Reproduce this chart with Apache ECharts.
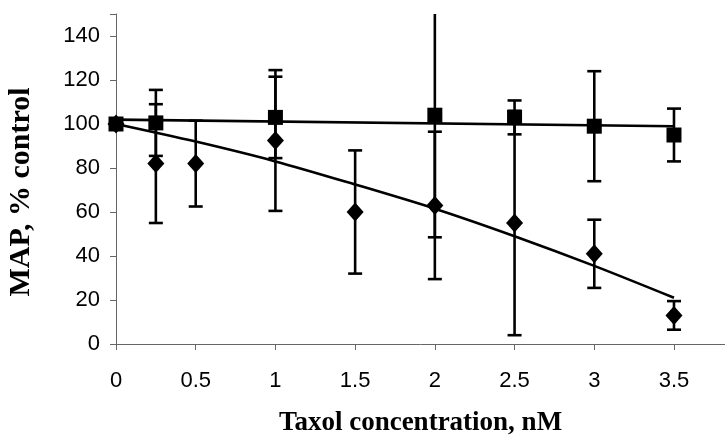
<!DOCTYPE html>
<html>
<head>
<meta charset="utf-8">
<script src="https://cdn.jsdelivr.net/npm/echarts@6/dist/echarts.min.js"></script>
<style>
  html, body { margin: 0; padding: 0; background: #fff; }
  #chart { width: 725px; height: 436px; }
</style>
</head>
<body>
<div id="chart"></div>
<script>
"use strict";

// MAP vs taxol, squares = control curve, diamonds = taxol curve
var xTicks = [0, 0.5, 1, 1.5, 2, 2.5, 3, 3.5];
var yTicks = [0, 20, 40, 60, 80, 100, 120, 140];

var squareX = [0, 0.25, 1, 2, 2.5, 3, 3.5];
var squareY = [100, 100.5, 103, 104, 103, 99, 95];
var squareErr = [0, 15, 18.5, 55.5, 7.7, 25, 12];

var diamondX = [0, 0.25, 0.5, 1, 1.5, 2, 2.5, 3, 3.5];
var diamondY = [100, 82, 82, 92.5, 60, 63, 55, 41, 13];
var diamondErr = [0, 27, 19.5, 32, 28, 33.5, 51, 15.5, 6.5];

// trend lines
var squareTrendX = [0, 3.5];
var squareTrendY = [102, 99];
var diamondTrendX = [0, 0.5, 1, 1.5, 2, 2.5, 3, 3.5];
var diamondTrendY = [100, 92, 83, 72.5, 61.5, 49, 35.5, 21];

function pairs(xs, ys) {
    return xs.map(function (x, i) { return [x, ys[i]]; });
}

function errData(xs, ys, errs) {
    return xs.map(function (x, i) { return [x, ys[i] - errs[i], ys[i] + errs[i]]; });
}

function renderErr(params, api) {
    var lo = api.coord([api.value(0), api.value(1)]);
    var hi = api.coord([api.value(0), api.value(2)]);
    var w = 7;
    var st = { stroke: '#000', lineWidth: 2.6 };
    return {
        type: 'group',
        children: [
            { type: 'line', shape: { x1: lo[0], y1: lo[1], x2: hi[0], y2: hi[1] }, style: st },
            { type: 'line', shape: { x1: lo[0] - w, y1: lo[1], x2: lo[0] + w, y2: lo[1] }, style: st },
            { type: 'line', shape: { x1: hi[0] - w, y1: hi[1], x2: hi[0] + w, y2: hi[1] }, style: st }
        ]
    };
}

var chart = echarts.init(document.getElementById('chart'));

var axisCol = '#666';
var labelFont = { color: '#000', fontFamily: 'Liberation Sans', fontSize: 22 };
var titleFont = { color: '#000', fontFamily: 'Liberation Serif', fontWeight: 'bold' };

var option = {
    animation: false,
    backgroundColor: '#fff',
    grid: { left: 116, right: 0, top: 14, bottom: 92, containLabel: false, outerBoundsMode: 'none' },
    xAxis: {
        type: 'value',
        min: 0,
        max: 3.82,
        interval: 0.5,
        name: 'Taxol concentration, nM',
        nameLocation: 'middle',
        nameGap: 66,
        nameTextStyle: Object.assign({ fontSize: 27 }, titleFont),
        splitLine: { show: false },
        axisLine: { lineStyle: { color: axisCol, width: 1 } },
        axisTick: { show: true, length: 6, lineStyle: { color: axisCol, width: 1 } },
        axisLabel: Object.assign({ margin: 26, customValues: xTicks }, labelFont)
    },
    yAxis: {
        type: 'value',
        min: 0,
        max: 150,
        interval: 20,
        name: 'MAP, % control',
        nameLocation: 'middle',
        nameGap: 80,
        nameTextStyle: Object.assign({ fontSize: 30, padding: [0, 26, 0, 0] }, titleFont),
        splitLine: { show: false },
        axisLine: { show: true, lineStyle: { color: axisCol, width: 1 } },
        axisTick: { show: true, length: 6, lineStyle: { color: axisCol, width: 1 } },
        axisLabel: Object.assign({ margin: 16, customValues: yTicks }, labelFont)
    },
    series: [
        {
            type: 'line',
            data: pairs(squareTrendX, squareTrendY),
            showSymbol: false,
            lineStyle: { color: '#000', width: 2.6 },
            z: 2
        },
        {
            type: 'line',
            data: pairs(diamondTrendX, diamondTrendY),
            showSymbol: false,
            smooth: 0.3,
            lineStyle: { color: '#000', width: 2.6 },
            z: 2
        },
        {
            type: 'custom',
            renderItem: renderErr,
            data: errData(squareX, squareY, squareErr),
            clip: true,
            z: 3
        },
        {
            type: 'custom',
            renderItem: renderErr,
            data: errData(diamondX, diamondY, diamondErr),
            clip: true,
            z: 3
        },
        {
            type: 'scatter',
            data: pairs(squareX, squareY),
            symbol: 'rect',
            symbolSize: 15,
            itemStyle: { color: '#000', opacity: 1 },
            z: 4
        },
        {
            type: 'scatter',
            data: pairs(diamondX, diamondY),
            symbol: 'diamond',
            symbolSize: [17, 19],
            itemStyle: { color: '#000', opacity: 1 },
            z: 4
        }
    ]
};

chart.setOption(option);
</script>
</body>
</html>
